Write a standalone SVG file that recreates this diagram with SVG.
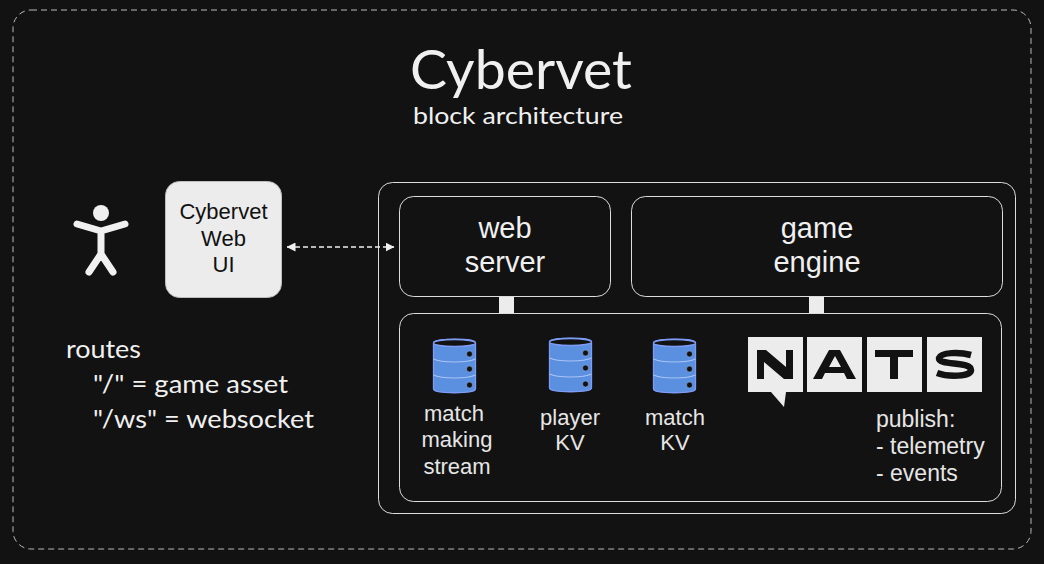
<svg xmlns="http://www.w3.org/2000/svg" width="1044" height="564" viewBox="0 0 1044 564">
<style>
.t{font-family:"Liberation Sans",Arial,sans-serif;text-anchor:middle}
.n{font-family:Lato,"Noto Sans",sans-serif;fill:#f0f0f0}
.box{fill:#121212;stroke:#dcdcdc;stroke-width:1}
.lbl{fill:#e6e6e6;font-size:22px}
.pub{font-family:"Liberation Sans",Arial,sans-serif;fill:#e6e6e6;font-size:23px}
.big{fill:#f0f0f0;font-size:29px}
.tile{fill:#ececec}
.db{fill:#5b8fe0;stroke:#7f9cf5;stroke-width:1.3}
.dl{fill:none;stroke:#a9c4f5;stroke-width:1.2}
.hole{fill:#121212;stroke:#a9c4f5;stroke-width:.5}
</style>
<defs>
<g id="cyl">
<path class="db" d="M0 4C0 -1 42 -1 42 4V50C42 55 0 55 0 50Z"/>
<ellipse cx="21" cy="4" rx="21" ry="3.500" fill="#121212" stroke="#7f9cf5" stroke-width="1.300"/>
<path class="dl" d="M0 20C8 24 34 24 42 20M0 36C8 40 34 40 42 36"/>
<circle class="hole" cx="36" cy="15" r="3"/><circle class="hole" cx="36" cy="30" r="3"/><circle class="hole" cx="36" cy="46" r="3"/>
</g>
<marker id="ah" viewBox="0 0 9 9" refX="8.500" refY="4.500" markerWidth="9" markerHeight="9" orient="auto-start-reverse" markerUnits="userSpaceOnUse"><path d="M0 0L9 4.500L0 9Z" fill="#f0f0f0"/></marker>
</defs>
<rect width="1044" height="564" fill="#121212"/>
<rect id="frame" x="13" y="10" width="1018" height="539" rx="18" fill="none" stroke="#b8b8b8" stroke-width="1" stroke-dasharray="6 4"/>
<g id="title">
<text class="n" x="521" y="88.500" font-size="54" text-anchor="middle" textLength="222" lengthAdjust="spacingAndGlyphs">Cybervet</text>
<text class="n" x="518" y="124" font-size="24" text-anchor="middle" textLength="210" lengthAdjust="spacingAndGlyphs">block architecture</text>
</g>
<g id="user" fill="none" stroke="#f0f0f0" stroke-linecap="round" stroke-linejoin="round" stroke-width="7">
<circle cx="101" cy="213" r="8" fill="#f0f0f0" stroke="none"/>
<path d="M77 224L101 231L125 224M101 231V254M101 254L89 272M101 254L113 272"/>
</g>
<g id="webui">
<rect x="165.500" y="181.500" width="116" height="116" rx="14" fill="#ececec" stroke="#bdbdbd"/>
<text class="t" x="223.500" y="219" font-size="22" fill="#111">Cybervet</text>
<text class="t" x="223.500" y="246" font-size="22" fill="#111">Web</text>
<text class="t" x="223.500" y="272" font-size="22" fill="#111">UI</text>
</g>
<g id="routes">
<text class="n" x="66" y="358" font-size="25" textLength="75" lengthAdjust="spacingAndGlyphs">routes</text>
<text class="n" x="93" y="393" font-size="25" textLength="195" lengthAdjust="spacingAndGlyphs">"/" = game asset</text>
<text class="n" x="93" y="428" font-size="25" textLength="221" lengthAdjust="spacingAndGlyphs">"/ws" = websocket</text>
</g>
<g id="backend"><rect class="box" x="378.500" y="182.500" width="637" height="331" rx="14"/></g>
<g id="connectors">
<line x1="287" y1="247" x2="394" y2="247" stroke="#f0f0f0" stroke-width="1.300" stroke-dasharray="5 3" marker-start="url(#ah)" marker-end="url(#ah)"/>
<rect x="499" y="297" width="15" height="17" fill="#ececec"/>
<rect x="809" y="297" width="15" height="17" fill="#ececec"/>
</g>
<g id="webserver">
<rect class="box" x="399.500" y="196.500" width="211" height="100" rx="14"/>
<text class="t big" x="505" y="238">web</text>
<text class="t big" x="505" y="272">server</text>
</g>
<g id="gameengine">
<rect class="box" x="631.500" y="196.500" width="371" height="100" rx="14"/>
<text class="t big" x="817" y="238">game</text>
<text class="t big" x="817" y="272">engine</text>
</g>
<g id="nats-box"><rect class="box" x="399.500" y="313.500" width="602" height="188" rx="14"/></g>
<g id="matchmaking">
<use href="#cyl" x="433.500" y="339"/>
<text class="t lbl" x="454" y="421">match</text>
<text class="t lbl" x="457" y="447">making</text>
<text class="t lbl" x="457" y="474">stream</text>
</g>
<g id="playerkv">
<use href="#cyl" x="549.500" y="338"/>
<text class="t lbl" x="570" y="425">player</text>
<text class="t lbl" x="570" y="450">KV</text>
</g>
<g id="matchkv">
<use href="#cyl" x="653.500" y="339"/>
<text class="t lbl" x="675" y="425">match</text>
<text class="t lbl" x="675" y="450">KV</text>
</g>
<g id="nats">
<path class="tile" d="M748 337H803V392H786L784 407L771 392H748Z"/>
<rect class="tile" x="807" y="337" width="55" height="55"/>
<rect class="tile" x="867" y="337" width="55" height="55"/>
<rect class="tile" x="927" y="337" width="55" height="55"/>
<path fill="#121212" d="M757 350H766L786 367V350H793V379H784L764 362V379H757Z"/>
<path fill="#121212" fill-rule="evenodd" d="M829 350H840L856 379H847L844 373H825L822 379H813ZM829 367H841L835 356Z"/>
<path fill="#121212" d="M875 350H913V357H898V379H890V357H875Z"/>
<path fill="none" stroke="#121212" stroke-width="6.500" d="M971 355C960 352 941 352 939 358C938 366 971 361 971 370C971 377 948 377 937 373"/>
</g>
<g id="publish">
<text class="pub" x="876" y="427">publish:</text>
<text class="pub" x="876" y="454">- telemetry</text>
<text class="pub" x="876" y="481">- events</text>
</g>
</svg>
